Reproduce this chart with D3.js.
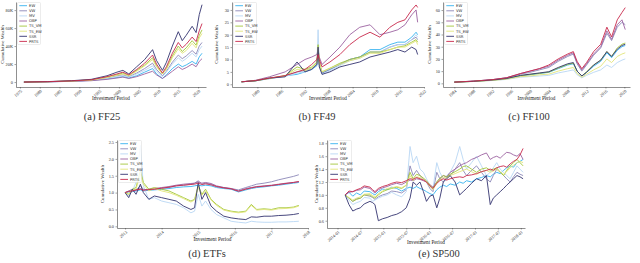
<!DOCTYPE html>
<html>
<head>
<meta charset="utf-8">
<script src="https://cdn.jsdelivr.net/npm/d3@7"></script>
<style>
body { margin: 0; background: #fff; }
svg { display: block; }
</style>
</head>
<body>
<div id="chart"></div>
<script>
var seriesNames = ["EW", "VW", "MV", "OBP", "TS_VM", "TS_EW", "SSR", "PRTS"];
var seriesColors = ["#35b2ef", "#8c88b8", "#b9d7f4", "#9c62a0", "#a3c63a", "#e2e57a", "#33336f", "#c8284b"];

// (a) FF25, wealth in thousands
var ff25Times = [1976, 1982, 1988, 1993, 1997, 1999.5, 2001, 2002.5, 2004.5, 2006.5, 2008.5, 2009.5, 2011, 2012, 2013.5, 2015, 2016, 2017, 2018.5, 2019.5, 2020.3, 2021];
var ff25Values = [
  [0, 0.3, 0.9, 1.8, 3.5, 5, 6, 4.5, 7, 11, 15, 9, 4, 8, 15, 20, 17, 19, 23, 20, 28, 32],
  [0, 0.3, 1, 2, 4.5, 7, 8, 6, 10, 15, 21, 14, 7, 12, 22, 30, 26, 29, 35, 31, 40, 44],
  [0, 0.3, 1, 2, 4, 6, 7, 5.5, 9, 13, 18, 12, 6, 11, 20, 27, 23, 26, 32, 28, 36, 40],
  [0, 0.2, 0.8, 1.5, 3, 4.5, 5.5, 4, 6, 9, 12, 8, 4, 7, 12, 17, 14, 16, 20, 17, 23, 26],
  [0, 0.4, 1.2, 2.4, 5.5, 8, 10, 7, 13, 19, 27, 18, 9, 15, 29, 40, 34, 38, 46, 41, 52, 58],
  [0, 0.4, 1.2, 2.3, 5, 7.5, 9, 7, 12, 18, 25, 17, 9, 14, 27, 37, 32, 35, 43, 38, 49, 54],
  [0, 0.5, 1.5, 3, 7, 11, 13, 9, 17, 25, 36, 24, 13, 22, 40, 56, 46, 52, 62, 55, 75, 86],
  [0, 0.4, 1.3, 2.5, 6, 9, 11, 8, 14, 21, 30, 20, 10, 17, 32, 44, 38, 42, 50, 45, 57, 65]
];
var ff25XTicks = [1975, 1980, 1985, 1990, 1995, 2000, 2005, 2010, 2015, 2020];
var ff25YTicks = [0, 20, 40, 60, 80];

// (b) FF49
var ff49Times = [1976, 1979.5, 1983, 1987, 1990, 1992, 1993.7, 1995.0, 1995.3, 1995.6, 1996.3, 1998.3, 2000.8, 2003.3, 2005.8, 2008.4, 2010.9, 2013.4, 2015.4, 2017.2, 2018.9, 2020, 2020.4];
var ff49Values = [
  [1, 1.4, 2.3, 3.4, 4, 5, 6, 7.5, 13, 8, 4.5, 6, 8, 10, 11, 14, 14, 16, 17, 17, 19, 21, 20],
  [1, 1.4, 2.3, 3.3, 5, 5.5, 6.5, 8, 14, 8, 4.5, 6, 8, 10, 11, 13, 13, 15, 16, 16, 18, 19, 18],
  [1, 1.4, 2.2, 3.2, 4.5, 5, 6, 8, 22, 9, 4, 5.5, 7.5, 9.5, 10.5, 13, 13, 15, 16, 16, 18, 20, 19],
  [1, 1.6, 3, 5, 8, 10, 11, 12, 14, 11, 8, 11, 15, 20, 23, 24, 20, 21, 22, 24, 28, 30, 25],
  [1, 1.4, 2.4, 3.5, 7, 6, 7, 9, 16, 9, 5, 6.5, 8.5, 10, 11, 13, 13, 14, 15, 15.5, 17, 18, 17],
  [1, 1.4, 2.4, 3.4, 6, 5.5, 6.5, 8.5, 15, 8.5, 5, 6.5, 8, 9.5, 10.5, 12.5, 12.5, 14, 15, 15, 16.5, 17.5, 16],
  [1, 1.4, 2.5, 3, 9, 5, 6, 8, 15, 7, 4, 5, 7, 8, 9, 11, 12, 13, 14, 13, 15, 14, 12],
  [1, 1.5, 2.5, 3.5, 5, 6, 8, 10, 12, 10, 7, 9, 12, 16, 19, 21, 19, 23, 25, 26, 30, 32, 31]
];
var ff49XTicks = [1980, 1986, 1992, 1998, 2004, 2010, 2016, 2022];
var ff49YTicks = [0, 5, 10, 15, 20, 25, 30];

// (c) FF100
var ff100Times = [1984, 1988, 1992, 1995, 1998, 2000, 2002, 2004, 2006, 2008, 2009.2, 2010, 2011, 2012, 2013.5, 2015, 2016.3, 2017.3, 2018.5, 2019.5, 2020.2];
var ff100Values = [
  [1, 1.6, 2.6, 3.8, 6, 7, 8, 9, 12, 15, 16, 10, 6, 9, 14, 18, 25, 21, 27, 30, 31],
  [1, 1.8, 3, 4.5, 7.5, 9, 11, 13, 18, 22, 24, 16, 10, 15, 23, 29, 41, 35, 46, 50, 48],
  [1, 1.5, 2.3, 3.2, 5, 5.5, 6, 6.5, 8.5, 10, 11, 7, 4.5, 6.5, 9, 11, 15, 13, 17, 19, 20],
  [1, 1.8, 3, 4.5, 8, 10, 12, 14, 19, 23, 25, 17, 11, 16, 24, 30, 43, 36, 48, 52, 44],
  [1, 1.6, 2.6, 3.8, 6.2, 7.2, 8.2, 9.2, 12.5, 15.5, 16.5, 10, 6, 9.5, 15, 19, 26, 22, 29, 32, 33],
  [1, 1.5, 2.4, 3.4, 5.5, 6, 7, 7.5, 10, 12, 13, 8, 5, 7.5, 11, 14, 20, 17, 22, 24, 25],
  [1, 1.6, 2.7, 3.9, 6.5, 7.5, 8.5, 9.5, 13, 16, 17, 10, 6, 9, 15, 19, 26, 22, 28, 31, 32],
  [1, 1.8, 3, 4.5, 8, 10, 12, 15, 20, 24, 26, 18, 12, 17, 26, 32, 46, 38, 52, 58, 62]
];
var ff100XTicks = [1984, 1988, 1992, 1996, 2000, 2004, 2008, 2012, 2016, 2020];
var ff100YTicks = [0, 10, 20, 30, 40, 50, 60];

// (d) ETFs
var etfTimes = [2013.0, 2013.1, 2013.2, 2013.3, 2013.42, 2013.5, 2013.65, 2013.8, 2014.0, 2014.2, 2014.4, 2014.6, 2014.8, 2014.9, 2015.0, 2015.1, 2015.2, 2015.35, 2015.5, 2015.7, 2015.9, 2016.1, 2016.3, 2016.45, 2016.6, 2016.8, 2017.0, 2017.2, 2017.4, 2017.6, 2017.75];
var etfValues = [
  [1.0, 1.02, 1.03, 1.05, 1.08, 1.05, 1.07, 1.08, 1.1, 1.12, 1.15, 1.17, 1.18, 1.2, 1.22, 1.2, 1.22, 1.2, 1.15, 1.12, 1.1, 1.02, 1.08, 1.12, 1.15, 1.17, 1.2, 1.22, 1.25, 1.28, 1.3],
  [1.0, 1.05, 1.1, 1.08, 1.2, 1.1, 1.08, 1.1, 1.13, 1.15, 1.2, 1.22, 1.25, 1.28, 1.35, 1.25, 1.28, 1.25, 1.18, 1.15, 1.12, 1.08, 1.15, 1.2, 1.25, 1.28, 1.32, 1.38, 1.43, 1.48, 1.53],
  [1.0, 0.9, 1.05, 1.3, 2.4, 1.2, 0.8, 0.85, 0.75, 0.7, 0.65, 0.55, 0.4, 0.45, 0.95, 0.6, 0.75, 0.5, 0.35, 0.25, 0.15, 0.12, 0.1, 0.15, 0.13, 0.12, 0.12, 0.13, 0.13, 0.14, 0.15],
  [1.0, 1.03, 1.05, 1.07, 1.12, 1.08, 1.1, 1.12, 1.15, 1.18, 1.22, 1.25, 1.27, 1.28, 1.32, 1.28, 1.3, 1.27, 1.2, 1.15, 1.12, 1.05, 1.12, 1.15, 1.18, 1.2, 1.22, 1.25, 1.28, 1.3, 1.32],
  [1.0, 0.95, 1.1, 1.15, 1.65, 1.3, 1.1, 1.15, 1.1, 1.05, 0.95, 0.85, 0.75, 0.8, 1.2, 0.95, 1.1, 0.8, 0.65, 0.5, 0.45, 0.42, 0.45, 0.65, 0.5, 0.52, 0.5, 0.55, 0.55, 0.57, 0.62],
  [1.0, 0.95, 1.08, 1.1, 1.55, 1.25, 1.05, 1.12, 1.05, 1.0, 0.92, 0.82, 0.72, 0.78, 1.15, 0.92, 1.05, 0.78, 0.62, 0.48, 0.43, 0.4, 0.43, 0.62, 0.48, 0.5, 0.48, 0.52, 0.53, 0.55, 0.6],
  [1.0, 0.85, 1.1, 0.95, 1.25, 1.0, 0.8, 0.9, 0.85, 0.8, 0.75, 0.6, 0.5, 0.55, 1.3, 0.8, 1.0, 0.6, 0.45, 0.3, 0.25, 0.22, 0.2, 0.28, 0.27, 0.3, 0.3, 0.32, 0.33, 0.35, 0.38],
  [1.0, 1.04, 1.05, 1.08, 1.1, 1.07, 1.09, 1.1, 1.13, 1.16, 1.2, 1.22, 1.24, 1.25, 1.28, 1.24, 1.26, 1.23, 1.18, 1.14, 1.11, 1.04, 1.1, 1.14, 1.17, 1.19, 1.21, 1.24, 1.27, 1.3, 1.33]
];
var etfXTicks = [2013, 2014, 2015, 2016, 2017, 2018];
var etfYTicks = [0, 0.5, 1.0, 1.5, 2.0, 2.5];

// (e) SP500, months since 2014-01
var sp500Months = [2, 3, 4, 5, 6, 7, 8.5, 9.2, 9.8, 10.7, 11.8, 13, 14.2, 15.5, 16.8, 18, 19, 19.8, 20.7, 21.6, 22.5, 23.3, 24.2, 25, 26, 26.8, 27.7, 28.6, 29.5, 30.8, 32, 32.9, 33.8, 35.1, 36.4, 37.7, 39, 40, 40.8, 41.7, 42.6, 43.5, 44.3, 45.2, 46.1, 47, 47.8, 48.6];
var sp500Values = [
  [1.0, 1.04, 0.98, 1.03, 1.0, 1.06, 1.05, 1.02, 1.0, 1.05, 1.09, 1.08, 1.12, 1.1, 1.06, 1.1, 1.12, 1.1, 1.13, 1.1, 1.08, 1.05, 1.02, 1.0, 1.08, 1.12, 1.15, 1.13, 1.17, 1.15, 1.2, 1.18, 1.22, 1.2, 1.25, 1.27, 1.3, 1.28, 1.32, 1.35, 1.33, 1.38, 1.42, 1.45, 1.43, 1.5, 1.52, 1.55],
  [1.0, 0.95, 0.9, 0.94, 0.95, 1.0, 0.98, 0.96, 0.93, 0.97, 1.0, 1.02, 1.06, 1.05, 1.03, 1.08, 1.45, 1.3, 1.38, 1.3, 1.25, 1.2, 1.1, 1.05, 1.35, 1.25, 1.2, 1.28, 1.3, 1.4, 1.5, 1.38, 1.3, 1.38, 1.45, 1.35, 1.25, 1.2, 1.3, 1.4, 1.35, 1.3, 1.25, 1.2, 1.28, 1.35, 1.32, 1.3],
  [1.0, 0.92, 0.85, 0.88, 0.9, 0.96, 0.95, 0.9, 0.92, 0.95, 0.98, 1.0, 1.04, 1.0, 0.97, 1.05, 1.75, 1.5, 1.6, 1.4, 1.35, 1.25, 1.15, 1.1, 1.5, 1.35, 1.25, 1.3, 1.35, 1.5, 1.75, 1.55, 1.4, 1.5, 1.6, 1.45, 1.3, 1.35, 1.42, 1.5, 1.4, 1.35, 1.3, 1.25, 1.35, 1.45, 1.4, 1.35],
  [1.0, 1.04, 1.05, 1.07, 1.08, 1.12, 1.1, 1.06, 1.03, 1.08, 1.11, 1.13, 1.16, 1.18, 1.16, 1.2, 1.23, 1.22, 1.25, 1.24, 1.22, 1.2, 1.16, 1.12, 1.2, 1.25, 1.3, 1.28, 1.35, 1.4, 1.45, 1.48, 1.5, 1.55, 1.58, 1.62, 1.65, 1.55, 1.58, 1.6, 1.57, 1.62, 1.66, 1.65, 1.62, 1.6, 1.64, 1.55],
  [1.0, 0.95, 0.9, 0.93, 0.95, 1.0, 1.0, 0.97, 0.95, 1.0, 1.05, 1.08, 1.1, 1.12, 1.1, 1.15, 1.35, 1.25, 1.32, 1.3, 1.26, 1.22, 1.15, 1.1, 1.2, 1.26, 1.3, 1.28, 1.32, 1.36, 1.4, 1.44, 1.45, 1.4, 1.35, 1.4, 1.42, 1.38, 1.4, 1.42, 1.35, 1.3, 1.38, 1.45, 1.5, 1.55, 1.5, 1.45],
  [1.0, 0.96, 0.92, 0.95, 0.97, 1.01, 1.02, 0.99, 0.97, 1.02, 1.06, 1.1, 1.11, 1.13, 1.11, 1.15, 1.3, 1.22, 1.28, 1.27, 1.24, 1.2, 1.13, 1.08, 1.18, 1.23, 1.27, 1.26, 1.3, 1.33, 1.36, 1.38, 1.4, 1.36, 1.32, 1.36, 1.38, 1.35, 1.37, 1.4, 1.36, 1.32, 1.36, 1.42, 1.46, 1.5, 1.52, 1.5],
  [1.0, 0.85, 0.75, 0.78, 0.8, 0.86, 0.9, 0.88, 0.85, 0.6, 0.63, 0.65, 0.68, 0.7, 0.74, 0.8, 0.95, 1.2, 1.15, 1.2, 1.05, 0.9, 0.98, 1.0, 0.8, 0.95, 1.2, 1.25, 1.3, 1.2, 1.0, 1.05, 1.1, 1.18, 1.25, 1.22, 1.3, 0.85, 0.95, 1.0, 1.05, 1.1, 1.15, 1.2, 1.25, 1.3, 1.28, 1.25],
  [1.0, 1.06, 1.05, 1.08, 1.1, 1.14, 1.12, 1.08, 1.05, 1.1, 1.13, 1.15, 1.18, 1.2, 1.19, 1.22, 1.25, 1.24, 1.27, 1.25, 1.23, 1.2, 1.14, 1.1, 1.18, 1.22, 1.25, 1.23, 1.25, 1.27, 1.28, 1.27, 1.3, 1.31, 1.33, 1.36, 1.38, 1.4, 1.38, 1.42, 1.44, 1.45, 1.43, 1.48, 1.52, 1.55, 1.62, 1.72]
];
var sp500XTicks = [0, 6, 12, 18, 24, 30, 36, 42, 48];
var sp500XLabels = ["2014-01", "2014-07", "2015-01", "2015-07", "2016-01", "2016-07", "2017-01", "2017-07", "2018-01"];
var sp500YTicks = [0.6, 0.8, 1.0, 1.2, 1.4, 1.6, 1.8];

var serif = "'Liberation Serif', 'Times New Roman', serif";

var svg = d3.select("#chart").append("svg")
    .attr("width", 640)
    .attr("height", 263)
    .style("font-family", serif);

var axisColor = "#444";

function drawPanel(p) {
    var x = d3.scaleLinear().domain(p.xDomain).range([p.left, p.right]);
    var y = d3.scaleLinear().domain(p.yDomain).range([p.bottom, p.top]);
    var g = svg.append("g");

    var line = d3.line()
        .x(function (d) { return x(d[0]); })
        .y(function (d) { return y(d[1]); });

    p.values.forEach(function (vals, i) {
        var pts = p.times.map(function (t, k) { return [t, vals[k]]; });
        g.append("path")
            .datum(pts)
            .attr("d", line)
            .attr("fill", "none")
            .attr("stroke", seriesColors[i])
            .attr("stroke-width", 0.9)
            .attr("stroke-linejoin", "round");
    });

    // x axis, rotated labels
    var gx = g.append("g")
        .attr("transform", "translate(0," + p.bottom + ")")
        .call(d3.axisBottom(x).tickValues(p.xTicks).tickSize(1.5).tickSizeOuter(0).tickFormat(p.xFormat));
    gx.selectAll(".tick text")
        .attr("y", 0).attr("dy", "0.35em").attr("x", 0)
        .attr("text-anchor", "end")
        .attr("transform", "translate(1,3.5) rotate(-40)")
        .style("font-size", "4.3px")
        .attr("fill", "#333");

    // y axis
    var gy = g.append("g")
        .attr("transform", "translate(" + p.left + ",0)")
        .call(d3.axisLeft(y).tickValues(p.yTicks).tickSize(1.5).tickSizeOuter(0).tickPadding(1.5).tickFormat(p.yFormat));
    gy.selectAll(".tick text").style("font-size", "4.3px").attr("fill", "#333");

    g.selectAll(".domain").attr("stroke", axisColor).attr("stroke-width", 0.6);
    g.selectAll(".tick line").attr("stroke", axisColor).attr("stroke-width", 0.5);
    g.selectAll(".tick text").style("font-family", serif);

    // axis titles
    g.append("text")
        .attr("transform", "translate(" + p.yTitleX + "," + ((p.top + p.bottom) / 2) + ") rotate(-90)")
        .attr("text-anchor", "middle")
        .style("font-size", "5px")
        .attr("fill", "#222")
        .text("Cumulative Wealth");
    g.append("text")
        .attr("x", (p.left + p.right) / 2)
        .attr("y", p.xTitleY)
        .attr("text-anchor", "middle")
        .style("font-size", "5.2px")
        .attr("fill", "#222")
        .text("Investment Period");

    // legend
    var lx = p.left + 1.5, ly = p.top + 0.5;
    var lg = g.append("g");
    lg.append("rect")
        .attr("x", lx).attr("y", ly)
        .attr("width", 23).attr("height", 42)
        .attr("rx", 1)
        .attr("fill", "#fff").attr("fill-opacity", 0.85)
        .attr("stroke", "#d0d0d0").attr("stroke-width", 0.4);
    seriesNames.forEach(function (name, i) {
        var yy = ly + 3.2 + i * 5.1;
        lg.append("line")
            .attr("x1", lx + 1.8).attr("x2", lx + 9.5)
            .attr("y1", yy).attr("y2", yy)
            .attr("stroke", seriesColors[i]).attr("stroke-width", 0.9);
        lg.append("text")
            .attr("x", lx + 11.5).attr("y", yy)
            .attr("dy", "0.35em")
            .style("font-size", "3.8px")
            .style("font-family", "'DejaVu Sans', sans-serif")
            .attr("fill", "#333")
            .text(name);
    });

    // caption
    svg.append("text")
        .attr("x", p.captionX)
        .attr("y", p.captionY)
        .attr("text-anchor", "middle")
        .style("font-size", "10.5px")
        .style("font-weight", "normal")
        .attr("fill", "#333")
        .text(p.caption);
}

drawPanel({
    times: ff25Times, values: ff25Values,
    xDomain: [1974, 2022], yDomain: [-5.5, 89],
    left: 16, right: 206, top: 2, bottom: 87,
    xTicks: ff25XTicks, xFormat: d3.format("d"),
    yTicks: ff25YTicks, yFormat: function (v) { return v === 0 ? "0" : v + "K"; },
    yTitleX: 4, xTitleY: 100,
    caption: "(a) FF25", captionX: 102, captionY: 120
});

drawPanel({
    times: ff49Times, values: ff49Values,
    xDomain: [1973.6, 2022], yDomain: [-1.1, 33.2],
    left: 232, right: 424, top: 2, bottom: 87,
    xTicks: ff49XTicks, xFormat: d3.format("d"),
    yTicks: ff49YTicks, yFormat: d3.format("d"),
    yTitleX: 218, xTitleY: 100,
    caption: "(b) FF49", captionX: 317, captionY: 120
});

drawPanel({
    times: ff100Times, values: ff100Values,
    xDomain: [1981.6, 2021.2], yDomain: [-3, 66.6],
    left: 443, right: 630, top: 2, bottom: 87,
    xTicks: ff100XTicks, xFormat: d3.format("d"),
    yTicks: ff100YTicks, yFormat: d3.format("d"),
    yTitleX: 431, xTitleY: 100,
    caption: "(c) FF100", captionX: 529, captionY: 120
});

drawPanel({
    times: etfTimes, values: etfValues,
    xDomain: [2012.78, 2018], yDomain: [-0.05, 2.56],
    left: 117, right: 308, top: 140, bottom: 228,
    xTicks: etfXTicks, xFormat: d3.format("d"),
    yTicks: etfYTicks, yFormat: d3.format(".1f"),
    yTitleX: 104, xTitleY: 241,
    caption: "(d) ETFs", captionX: 207, captionY: 257
});

drawPanel({
    times: sp500Months, values: sp500Values,
    xDomain: [-2.75, 49.1], yDomain: [0.487, 1.851],
    left: 327, right: 525, top: 140, bottom: 228,
    xTicks: sp500XTicks, xFormat: function (m) { return sp500XLabels[sp500XTicks.indexOf(m)]; },
    yTicks: sp500YTicks, yFormat: d3.format(".1f"),
    yTitleX: 318, xTitleY: 244,
    caption: "(e) SP500", captionX: 439, captionY: 257
});
</script>
</body>
</html>
